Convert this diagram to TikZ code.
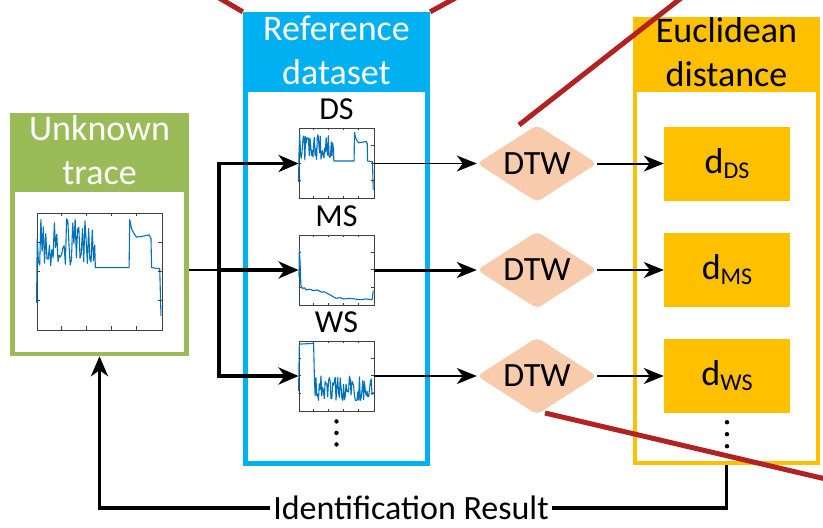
\documentclass[tikz,border=0pt]{standalone}
\usepackage{fontspec}
\setmainfont{Carlito}
\usetikzlibrary{positioning,shapes.geometric,arrows.meta}
\definecolor{unkgreen}{RGB}{155,187,89}
\definecolor{refblue}{RGB}{0,176,240}
\definecolor{eucorange}{RGB}{255,192,0}
\definecolor{dtwpeach}{RGB}{248,203,173}
\definecolor{zoomred}{RGB}{178,34,34}
\definecolor{traceblue}{RGB}{0,114,189}
\newcommand{\dstrace}{\draw[traceline] (0,77) -- plot[domain=0.5:46.5,samples=48] (\x,{5+41*rnd}) -- (47,47) -- (74,47) -- (74.5,6) -- (76,14) -- (78,18) -- (80,21) -- (86,20) -- (90,19) -- (91.5,22) -- (92,47) -- (98.5,48) -- (99.5,88);}
\newcommand{\plotticks}{\foreach \t in {20,40,60,80} {\draw[plottick] (\t,100) -- ++(0,-3) (\t,0) -- ++(0,3);}
  \foreach \t in {25,50,75} {\draw[plottick] (0,\t) -- ++(3,0) (100,\t) -- ++(-3,0);}}
\newcommand{\dsub}[1]{d\raisebox{-5pt}{\fontsize{24}{24}\selectfont #1}}

\begin{document}
\begin{tikzpicture}[x=1pt, y=-1pt,
  boxtitle/.style={align=center, inner sep=0pt, font=\fontsize{36}{44}\selectfont, text=white},
  plotbox/.style={draw=black!75, line width=0.8pt, inner sep=0pt, minimum width=75pt, minimum height=70pt},
  traceline/.style={traceblue, line width=1.1pt, line join=round},
  plottick/.style={black!75, line width=0.5pt},
  seriesname/.style={inner sep=0pt, font=\fontsize{32}{32}\selectfont},
  dtwnode/.style={diamond, aspect=1.56, fill=dtwpeach, rounded corners=5pt, minimum width=120pt, minimum height=77pt, inner sep=0pt, font=\fontsize{34}{34}\selectfont},
  distnode/.style={fill=eucorange, minimum width=126pt, minimum height=74pt, inner sep=0pt, font=\fontsize{36}{36}\selectfont},
  thickarr/.style={line width=3.5pt, -{Stealth[length=20pt,width=17pt,inset=6pt]}},
  thinarr/.style={line width=1.5pt, -{Stealth[length=20pt,width=16pt,inset=6pt]}},
  zoomline/.style={zoomred, line width=5pt}]
\useasboundingbox (0,0) rectangle (823,528);
\pgfmathsetseed{12}

\node[fill=unkgreen, minimum width=179pt, minimum height=243pt] (unkbox) at (99.5,234.5) {};
\node[fill=white, minimum width=169pt, minimum height=160pt] (unkin) at (99.5,272) {};
\node[boxtitle] (unktitle) at (99.5,150) {Unknown\\trace};

\node[fill=refblue, minimum width=187pt, minimum height=454pt] (refbox) at (336.5,239) {};
\node[fill=white, minimum width=177pt, minimum height=369pt] (refin) at (336.5,276.5) {};
\node[boxtitle] (reftitle) at (336.5,50) {Reference\\dataset};

\node[fill=eucorange, minimum width=187pt, minimum height=448pt] (eucbox) at (726.5,241) {};
\node[fill=white, minimum width=179pt, minimum height=369pt] (eucin) at (726.5,276.5) {};
\node[boxtitle, text=black] (euctitle) at (726.5,52) {Euclidean\\distance};

\node[plotbox, minimum width=125pt, minimum height=117pt] (unkplot) at (99.5,271.5) {};
\begin{scope}[shift={(unkplot.north west)}, x=1.25pt, y=-1.17pt]
  \dstrace \plotticks
\end{scope}

\node[plotbox] (dsplot) at (336.5,163.5) {};
\node[plotbox] (msplot) at (336.5,270) {};
\node[plotbox] (wsplot) at (336.5,376) {};
\node[seriesname, above=8pt of dsplot] (dsname) {DS};
\node[seriesname, above=8pt of msplot] (msname) {MS};
\node[seriesname, above=8pt of wsplot] (wsname) {WS};
\begin{scope}[shift={(dsplot.north west)}, x=0.75pt, y=-0.7pt]
  \dstrace \plotticks
\end{scope}
\begin{scope}[shift={(msplot.north west)}, x=0.75pt, y=-0.7pt]
  \draw[traceline] (0.5,60) -- (1,21) -- (2,40) -- (3,72) -- (5,77) -- (8,76) -- (10,79) -- (15,78) -- (20,80) -- (25,79) -- (30,82) -- (35,82) -- (38,84) -- (42,86) -- (45,88) -- (50,91) -- (55,90) -- (60,92) -- (68,91) -- (75,92) -- (82,93) -- (90,92) -- (98,93) -- (99.5,80);
  \plotticks
\end{scope}
\begin{scope}[shift={(wsplot.north west)}, x=0.75pt, y=-0.7pt]
  \draw[traceline] (0,72) -- (1,5) -- (20,4) -- (21,50) -- plot[domain=22:99,samples=70] (\x,{48+38*rnd}) -- (100,74);
  \plotticks
\end{scope}
\foreach \k in {0,1,2} \fill (wsplot.south) ++(0,10+11.5*\k) circle (2.2);

\node[dtwnode] (dtwds) at (537,163.5) {DTW};
\node[dtwnode] (dtwms) at (537,270) {DTW};
\node[dtwnode] (dtwws) at (537,376) {DTW};

\node[distnode] (dds) at (727,163.5) {\dsub{DS}};
\node[distnode] (dms) at (727,270) {\dsub{MS}};
\node[distnode] (dws) at (727,376) {\dsub{WS}};
\foreach \k in {0,1,2} \fill (dws.south) ++(0,9+12*\k) circle (2.2);

\coordinate (split) at (219,270);
\draw[line width=1.5pt] (unkbox.east |- split) -- (split);
\draw[thickarr] (split) |- (dsplot.west);
\draw[thickarr] (split) -- (msplot.west);
\draw[thickarr] (split) |- (wsplot.west);

\draw[thinarr] (dsplot.east) -- (dtwds.west);
\draw[thinarr, line width=3pt] (msplot.east) -- (dtwms.west);
\draw[thinarr, line width=2pt] (wsplot.east) -- (dtwws.west);
\draw[thinarr, line width=2pt] (dtwds.east) -- (dds.west);
\draw[thinarr, line width=2pt] (dtwms.east) -- (dms.west);
\draw[thinarr, line width=2pt] (dtwws.east) -- (dws.west);

\node[inner xsep=3pt, inner ysep=0pt, font=\fontsize{34}{34}\selectfont] (result) at (411,508) {Identification Result};
\draw[line width=3.5pt] (eucbox.south) |- (result.east);
\draw[thickarr] (result.west) -| (unkbox.south);

\draw[zoomline] (214,-5) -- (refbox.north west);
\draw[zoomline] (461,-5) -- (refbox.north east);
\draw[zoomline] (685,-5) -- (519,125);
\draw[zoomline] (545,413) -- (830,480);
\end{tikzpicture}
\end{document}
